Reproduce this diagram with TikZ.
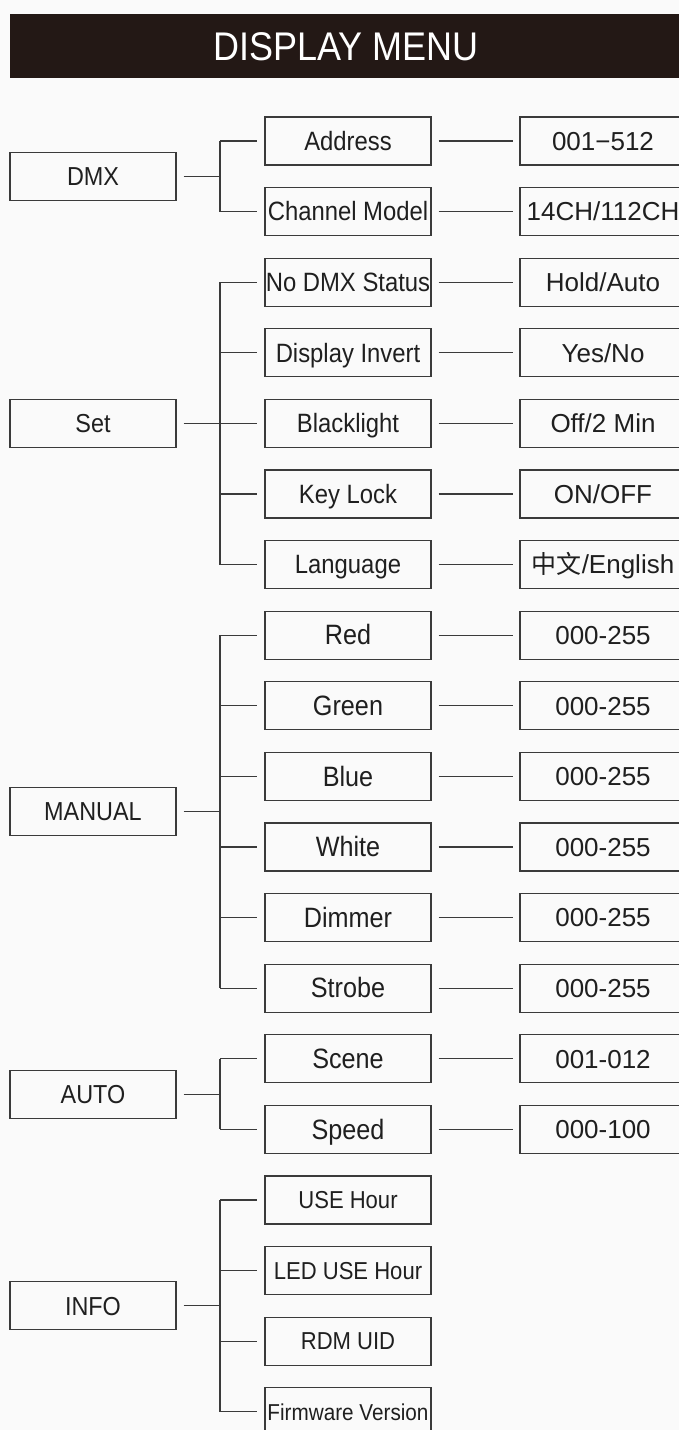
\documentclass[tikz,border=0pt]{standalone}
\usepackage{fontspec}
\setmainfont{Liberation Sans}
\newfontfamily\condfont{Liberation Sans}[FakeStretch=0.9]
\newfontfamily\cjkfont{Noto Sans CJK SC}
\definecolor{hdr}{HTML}{231815}
\definecolor{ln}{HTML}{3A3A3A}
\definecolor{bg}{HTML}{FAFAFA}
\begin{document}
\begin{tikzpicture}[x=1pt,y=-1pt,
  box/.style={draw=ln, line width=1.1pt, minimum width=166pt, minimum height=48pt, inner sep=0pt, text height=18.5pt, text depth=0pt, text=black!88},
  lbox/.style={box, font=\condfont\fontsize{26}{30}\selectfont},
  mbox/.style={box, font=\condfont\fontsize{26.5}{30}\selectfont},
  mboxl/.style={box, font=\condfont\fontsize{28}{30}\selectfont, text height=19.5pt},
  mboxs/.style={box, font=\condfont\fontsize{24.5}{30}\selectfont, text height=17.5pt},
  vbox/.style={box, font=\fontsize{26}{30}\selectfont},
  conn/.style={draw=ln, line width=1.1pt}]
\useasboundingbox (0,0) rectangle (679,1430);
\clip (0,0) rectangle (679,1430);
\fill[bg] (0,0) rectangle (679,1430);
\fill[hdr] (10,14) rectangle (690,78);
\node[text=white, inner sep=0pt, font=\condfont\fontsize{40}{44}\selectfont, text height=28.6pt, text depth=0pt] (title) at (346,46) {DISPLAY MENU};

% left column
\node[lbox] (dmx) at (93,176.3) {DMX};
\node[lbox] (set) at (93,423.4) {Set};
\node[lbox] (man) at (93,811.7) {MANUAL};
\node[lbox] (auto) at (93,1094.1) {AUTO};
\node[lbox] (info) at (93,1305.9) {INFO};

% middle column
\node[mbox] (m1) at (348,141) {Address};
\node[mbox] (m2) at (348,211.6) {Channel Model};
\node[mbox] (m3) at (348,282.2) {No DMX Status};
\node[mbox] (m4) at (348,352.8) {Display Invert};
\node[mbox] (m5) at (348,423.4) {Blacklight};
\node[mbox] (m6) at (348,494) {Key Lock};
\node[mbox] (m7) at (348,564.6) {Language};
\node[mboxl] (m8) at (348,635.2) {Red};
\node[mboxl] (m9) at (348,705.8) {Green};
\node[mboxl] (m10) at (348,776.4) {Blue};
\node[mboxl] (m11) at (348,847) {White};
\node[mboxl] (m12) at (348,917.6) {Dimmer};
\node[mboxl] (m13) at (348,988.2) {Strobe};
\node[mboxl] (m14) at (348,1058.8) {Scene};
\node[mboxl] (m15) at (348,1129.4) {Speed};
\node[mboxs] (m16) at (348,1200) {USE Hour};
\node[mboxs] (m17) at (348,1270.6) {LED USE Hour};
\node[mboxs] (m18) at (348,1341.2) {RDM UID};
\node[mboxs, font=\condfont\fontsize{23}{30}\selectfont, text height=16.5pt] (m19) at (348,1411.8) {Firmware Version};

% value column
\node[vbox] (v1) at (603,141) {001−512};
\node[vbox] (v2) at (603,211.6) {14CH/112CH};
\node[vbox] (v3) at (603,282.2) {Hold/Auto};
\node[vbox] (v4) at (603,352.8) {Yes/No};
\node[vbox] (v5) at (603,423.4) {Off/2 Min};
\node[vbox] (v6) at (603,494) {ON/OFF};
\node[vbox] (v7) at (603,564.6) {{\cjkfont\fontsize{25}{30}\selectfont 中文}/English};
\node[vbox] (v8) at (603,635.2) {000-255};
\node[vbox] (v9) at (603,705.8) {000-255};
\node[vbox] (v10) at (603,776.4) {000-255};
\node[vbox] (v11) at (603,847) {000-255};
\node[vbox] (v12) at (603,917.6) {000-255};
\node[vbox] (v13) at (603,988.2) {000-255};
\node[vbox] (v14) at (603,1058.8) {001-012};
\node[vbox] (v15) at (603,1129.4) {000-100};

% bus coordinates
\coordinate (b1) at (220,176.3);
\coordinate (b2) at (220,423.4);
\coordinate (b3) at (220,811.7);
\coordinate (b4) at (220,1094.1);
\coordinate (b5) at (220,1305.9);

% left to bus
\draw[conn] ([xshift=7pt]dmx.east) -- (b1);
\draw[conn] ([xshift=7pt]set.east) -- (b2);
\draw[conn] ([xshift=7pt]man.east) -- (b3);
\draw[conn] ([xshift=7pt]auto.east) -- (b4);
\draw[conn] ([xshift=7pt]info.east) -- (b5);

% vertical buses
\draw[conn] (b1 |- m1.west) -- (b1 |- m2.west);
\draw[conn] (b2 |- m3.west) -- (b2 |- m7.west);
\draw[conn] (b3 |- m8.west) -- (b3 |- m13.west);
\draw[conn] (b4 |- m14.west) -- (b4 |- m15.west);
\draw[conn] (b5 |- m16.west) -- (b5 |- m19.west);

% branches
\foreach \m/\b in {m1/b1,m2/b1,m3/b2,m4/b2,m5/b2,m6/b2,m7/b2,m8/b3,m9/b3,m10/b3,m11/b3,m12/b3,m13/b3,m14/b4,m15/b4,m16/b5,m17/b5,m18/b5,m19/b5}
  \draw[conn] (\b |- \m.west) -- ([xshift=-7pt]\m.west);

% middle to value
\foreach \i in {1,...,15}
  \draw[conn] ([xshift=7pt]m\i.east) -- ([xshift=-6pt]v\i.west);
\end{tikzpicture}
\end{document}
